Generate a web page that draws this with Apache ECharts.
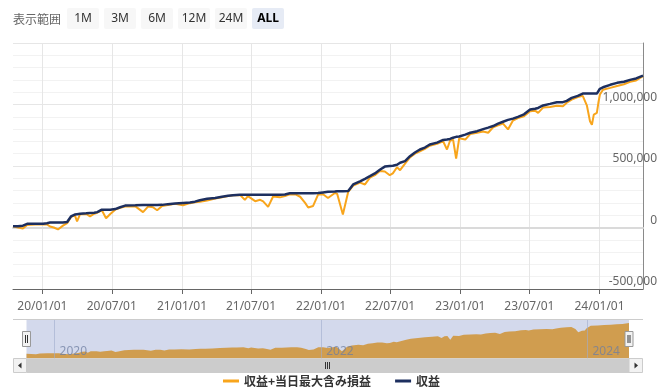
<!DOCTYPE html>
<html>
<head>
<meta charset="utf-8">
<script src="https://cdn.jsdelivr.net/npm/echarts@6/dist/echarts.min.js"></script>
<style>
  html, body { margin: 0; padding: 0; background: #fff; }
  #chart { width: 669px; height: 389px; }
</style>
</head>
<body>
<div id="chart"></div>
<script>
// 日付
const dates = [
  '2019-10-16', '2019-10-29', '2019-11-11', '2019-11-22', '2019-12-13', '2020-01-03', '2020-01-13', '2020-01-21',
  '2020-01-31', '2020-02-11', '2020-02-24', '2020-03-06', '2020-03-16', '2020-03-26', '2020-04-01', '2020-04-09',
  '2020-04-25', '2020-05-05', '2020-05-16', '2020-05-24', '2020-06-05', '2020-06-16', '2020-06-27', '2020-07-10',
  '2020-07-23', '2020-08-05', '2020-09-01', '2020-09-21', '2020-10-04', '2020-10-17', '2020-10-28', '2020-11-10',
  '2020-11-25', '2020-12-14', '2021-01-04', '2021-01-22', '2021-02-04', '2021-02-17', '2021-03-08', '2021-03-29',
  '2021-04-16', '2021-05-02', '2021-05-15', '2021-06-02', '2021-06-15', '2021-06-23', '2021-07-12', '2021-07-25',
  '2021-08-02', '2021-08-15', '2021-08-28', '2021-09-15', '2021-09-28', '2021-10-11', '2021-10-27', '2021-11-07',
  '2021-11-20', '2021-11-28', '2021-12-11', '2021-12-24', '2022-01-06', '2022-01-19', '2022-02-06', '2022-02-12',
  '2022-02-27', '2022-03-13', '2022-03-26', '2022-04-13', '2022-04-26', '2022-05-09', '2022-05-22', '2022-06-04',
  '2022-06-17', '2022-06-30', '2022-07-08', '2022-07-19', '2022-07-27', '2022-08-09', '2022-08-22', '2022-09-04',
  '2022-09-17', '2022-09-30', '2022-10-13', '2022-11-01', '2022-11-17', '2022-11-27', '2022-12-05', '2022-12-13',
  '2022-12-21', '2022-12-29', '2023-01-14', '2023-01-27', '2023-02-14', '2023-03-02', '2023-03-15', '2023-03-28',
  '2023-04-10', '2023-04-23', '2023-05-06', '2023-05-19', '2023-06-01', '2023-06-17', '2023-07-03', '2023-07-16',
  '2023-07-24', '2023-08-06', '2023-08-24', '2023-09-11', '2023-09-27', '2023-10-07', '2023-10-20', '2023-11-05',
  '2023-11-18', '2023-11-29', '2023-12-07', '2023-12-12', '2023-12-17', '2023-12-25', '2023-12-29', '2024-01-02',
  '2024-01-10', '2024-01-29', '2024-02-16', '2024-03-05', '2024-03-21', '2024-04-06', '2024-04-24'
]
// 収益
const profit = [
  10000, 10000, 15000, 30000, 30000, 30000, 35000, 40000,
  40000, 40000, 40000, 45000, 90000, 105000, 108000, 112000,
  115000, 118000, 120000, 125000, 145000, 145000, 145000, 150000,
  165000, 178000, 180000, 182000, 182000, 182000, 183000, 184000,
  190000, 195000, 200000, 203000, 210000, 222000, 233000, 240000,
  250000, 258000, 263000, 266000, 266000, 266000, 266000, 266000,
  266000, 266000, 266000, 266000, 268000, 278000, 278000, 278000,
  278000, 278000, 278000, 280000, 285000, 290000, 292000, 295000,
  295000, 297000, 350000, 375000, 395000, 417000, 440000, 470000,
  495000, 500000, 502000, 510000, 526000, 540000, 580000, 610000,
  634000, 650000, 675000, 690000, 712000, 715000, 720000, 730000,
  737000, 740000, 755000, 770000, 783000, 800000, 812000, 825000,
  845000, 860000, 875000, 885000, 900000, 920000, 959000, 965000,
  972000, 992000, 1005000, 1019000, 1019000, 1030000, 1054000, 1070000,
  1089000, 1089000, 1089000, 1089000, 1089000, 1089000, 1089000, 1128000,
  1140000, 1160000, 1176000, 1185000, 1200000, 1212000, 1235000
]
// 収益+当日最大含み損益
const profitWithLoss = [
  10000, 0, -8000, 20000, 25000, 25000, 25000, 8000,
  0, -16000, 15000, 35000, 85000, 100000, 50000, 108000,
  110000, 90000, 112000, 120000, 140000, 75000, 110000, 145000,
  160000, 170000, 172000, 125000, 170000, 165000, 140000, 175000,
  182000, 192000, 181000, 198000, 205000, 210000, 220000, 235000,
  245000, 255000, 262000, 265000, 225000, 255000, 214000, 225000,
  212000, 168000, 252000, 245000, 255000, 270000, 268000, 250000,
  200000, 162000, 175000, 268000, 270000, 240000, 280000, 275000,
  106000, 290000, 340000, 365000, 350000, 405000, 425000, 460000,
  455000, 425000, 440000, 490000, 466000, 520000, 570000, 600000,
  620000, 640000, 665000, 680000, 700000, 634000, 705000, 715000,
  561000, 725000, 715000, 760000, 770000, 780000, 770000, 815000,
  830000, 845000, 797000, 870000, 890000, 905000, 945000, 950000,
  932000, 975000, 980000, 990000, 986000, 1015000, 1040000, 1060000,
  1070000, 990000, 864000, 835000, 918000, 932000, 1014000, 1081000,
  1120000, 1135000, 1150000, 1165000, 1185000, 1195000, 1230000
]
// x軸の目盛り（半年ごと）
const tickDates = ['2020-01-01', '2020-07-01', '2021-01-01', '2021-07-01', '2022-01-01',
  '2022-07-01', '2023-01-01', '2023-07-01', '2024-01-01']
// ナビゲーターの年目盛り
const navYearDates = ['2020-01-01', '2022-01-01', '2024-01-01']
// 表示範囲ボタン
const rangeButtons = ['1M', '3M', '6M', '12M', '24M', 'ALL']
const startDate = '2019-10-16'
const endDate = '2024-04-24'

const FONT = '"Noto Sans", "Noto Sans CJK JP", sans-serif'
const CJK = '"Noto Sans CJK JP", sans-serif'

// 日付文字列 -> タイムスタンプ(UTC)
const toTime = s => Date.parse(s + 'T00:00:00Z')
const fmtDate = (v, withYearOnly) => {
  const d = new Date(v)
  const yy = String(d.getUTCFullYear())
  if (withYearOnly) return yy
  const mm = String(d.getUTCMonth() + 1).padStart(2, '0')
  const dd = String(d.getUTCDate()).padStart(2, '0')
  return yy.slice(2) + '/' + mm + '/' + dd
}
const withComma = v => String(v).replace(/\B(?=(\d{3})+(?!\d))/g, ',')

const chart = echarts.init(document.getElementById('chart'), null, { renderer: 'canvas' })

const lossData = dates.map((d, i) => [toTime(d), profitWithLoss[i]])
const profitData = dates.map((d, i) => [toTime(d), profit[i]])

// 画面上部・下部の飾り（ボタン、スクロールバー、ハンドル）
const graphics = [
  {
    type: 'text', x: 13, y: 19,
    style: { text: '表示範囲', fill: '#666', font: '12px ' + CJK, textVerticalAlign: 'middle' }
  }
]
rangeButtons.forEach((label, i) => {
  const x = 67 + i * 37
  const selected = label === 'ALL'
  graphics.push({
    type: 'rect', shape: { x: x, y: 8, width: 32, height: 21, r: 2 },
    style: { fill: selected ? '#e6ebf5' : '#f7f7f7' }
  })
  graphics.push({
    type: 'text', x: x + 16, y: 19,
    style: {
      text: label, fill: selected ? '#000' : '#333',
      font: (selected ? 'bold ' : '') + '12px ' + FONT,
      textAlign: 'center', textVerticalAlign: 'middle'
    }
  })
})
// ナビゲーターの枠線
graphics.push({
  type: 'line', shape: { x1: 13, y1: 319.5, x2: 643, y2: 319.5 },
  style: { stroke: '#cccccc', lineWidth: 1 }, z: 50
})
// スクロールバー
graphics.push({ type: 'rect', shape: { x: 26.5, y: 358.5, width: 602.5, height: 14.5 }, style: { fill: '#cccccc' }, z: 50 })
graphics.push({ type: 'rect', shape: { x: 13.5, y: 358.5, width: 13, height: 14 }, style: { fill: '#f2f2f2', stroke: '#cccccc' }, z: 50 })
graphics.push({ type: 'rect', shape: { x: 629, y: 358.5, width: 13.5, height: 14 }, style: { fill: '#f2f2f2', stroke: '#cccccc' }, z: 50 })
graphics.push({ type: 'polygon', shape: { points: [[18, 365.5], [21.5, 362.5], [21.5, 368.5]] }, style: { fill: '#333' }, z: 51 })
graphics.push({ type: 'polygon', shape: { points: [[638, 365.5], [634.5, 362.5], [634.5, 368.5]] }, style: { fill: '#333' }, z: 51 })
;[325.5, 327.5, 329.5].forEach(x => {
  graphics.push({ type: 'line', shape: { x1: x, y1: 362, x2: x, y2: 369 }, style: { stroke: '#333', lineWidth: 1 }, z: 51 })
})
// ナビゲーターのハンドル
;[26.5, 629].forEach(cx => {
  graphics.push({
    type: 'rect', shape: { x: cx - 4, y: 331.5, width: 8, height: 15 },
    style: { fill: '#f2f2f2', stroke: '#999', lineWidth: 1 }, z: 60
  })
  graphics.push({ type: 'line', shape: { x1: cx - 1, y1: 335, x2: cx - 1, y2: 343 }, style: { stroke: '#333' }, z: 61 })
  graphics.push({ type: 'line', shape: { x1: cx + 1, y1: 335, x2: cx + 1, y2: 343 }, style: { stroke: '#333' }, z: 61 })
})

const option = {
  animation: false,
  backgroundColor: '#fff',
  textStyle: { fontFamily: FONT },
  grid: [
    { left: 13, right: 26, top: 43, bottom: 100 },
    // ナビゲーター
    { left: 26.5, right: 40, top: 320, bottom: 30.5, show: true, backgroundColor: '#d3d9ec', borderWidth: 0 }
  ],
  legend: {
    data: ['収益+当日最大含み損益', '収益'],
    left: 218,
    top: 370,
    icon: 'rect',
    itemWidth: 16,
    itemHeight: 3,
    itemGap: 24,
    textStyle: { fontFamily: CJK, fontSize: 12, fontWeight: 'bold', color: '#333' }
  },
  xAxis: [
    {
      type: 'value',
      gridIndex: 0,
      min: toTime(startDate),
      max: toTime(endDate),
      axisLine: { onZero: false, lineStyle: { color: '#666', width: 1 } },
      axisTick: { show: true, length: 5, lineStyle: { color: '#666' }, customValues: tickDates.map(toTime) },
      axisLabel: {
        customValues: tickDates.map(toTime),
        formatter: v => fmtDate(v, false),
        color: '#666', fontSize: 12, margin: 12, fontFamily: FONT
      },
      splitLine: { show: true, lineStyle: { color: '#e6e6e6', width: 1 } }
    },
    {
      // 0のライン
      type: 'value',
      gridIndex: 0,
      min: toTime(startDate),
      max: toTime(endDate),
      axisLine: { show: true, onZero: true, lineStyle: { color: '#dadada', width: 2 } },
      axisTick: { show: false },
      axisLabel: { show: false },
      splitLine: { show: false }
    },
    {
      type: 'value',
      gridIndex: 1,
      z: 5,
      min: toTime(startDate),
      max: toTime(endDate),
      axisLine: { show: false },
      axisTick: { show: false, customValues: navYearDates.map(toTime) },
      axisLabel: {
        inside: true,
        customValues: navYearDates.map(toTime),
        formatter: v => fmtDate(v, true),
        align: 'left',
        padding: [0, 0, 0, 5],
        margin: 1,
        color: 'rgba(110, 125, 160, 0.75)',
        fontSize: 12,
        fontFamily: FONT
      },
      splitLine: { show: true, lineStyle: { color: 'rgba(160, 172, 205, 0.6)', width: 1 } }
    }
  ],
  yAxis: [
    {
      type: 'value',
      gridIndex: 0,
      position: 'right',
      min: -500000,
      max: 1500000,
      interval: 500000,
      axisLine: { show: true, lineStyle: { color: '#8a8a8a' } },
      axisTick: { show: false },
      axisLabel: {
        formatter: v => withComma(v),
        showMaxLabel: false,
        color: '#666',
        fontSize: 12,
        align: 'right',
        verticalAlign: 'bottom',
        margin: 14,
        padding: [0, 0, 1, 0],
        fontFamily: FONT
      },
      splitLine: { show: true, lineStyle: { color: '#e6e6e6', width: 1 } },
      minorTick: { show: false, splitNumber: 5 },
      minorSplitLine: { show: true, lineStyle: { color: '#f2f2f2', width: 1 } }
    },
    {
      type: 'value',
      gridIndex: 1,
      min: -180000,
      max: 1350000,
      show: false,
      splitLine: { show: false }
    }
  ],
  series: [
    {
      name: '収益+当日最大含み損益',
      type: 'line',
      xAxisIndex: 0,
      yAxisIndex: 0,
      data: lossData,
      color: '#f8a51c',
      showSymbol: false,
      symbol: 'none',
      lineStyle: { width: 2, color: '#f8a51c' },
      z: 3
    },
    {
      name: '収益',
      type: 'line',
      xAxisIndex: 0,
      yAxisIndex: 0,
      data: profitData,
      color: '#1d2f5f',
      showSymbol: false,
      symbol: 'none',
      lineStyle: { width: 2.5, color: '#1d2f5f' },
      z: 4
    },
    {
      name: 'navigator',
      type: 'line',
      xAxisIndex: 2,
      yAxisIndex: 1,
      data: lossData,
      showSymbol: false,
      symbol: 'none',
      lineStyle: { width: 0 },
      areaStyle: { color: '#d09d4f', opacity: 1, origin: 'start' },
      z: 2
    }
  ],
  graphic: graphics
}

chart.setOption(option)
</script>
</body>
</html>
